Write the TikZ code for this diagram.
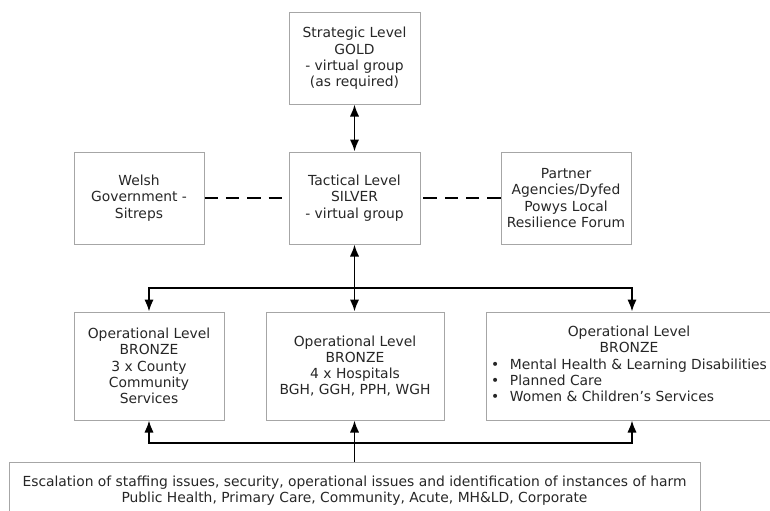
\documentclass[tikz,border=0pt]{standalone}
\usepackage{fontspec}
\setmainfont{DejaVu Sans}
\usetikzlibrary{arrows.meta}

\begin{document}
\begin{tikzpicture}[x=0.75pt,y=-0.75pt,
                    every node/.style={draw=gray!70,line width=0.75pt,align=center,inner sep=2pt,
                                       font=\fontsize{10.4}{12.2}\selectfont,text=black!85},
                    arr/.style={line width=1.3pt,>={Latex[length=9pt,width=7pt]}},
                    dashline/.style={line width=1.3pt,dash pattern=on 10pt off 6pt}]
  % command structure: GOLD over SILVER over three BRONZE groups, escalation feeding up.
  \useasboundingbox (0,0) rectangle (770,510);
  \clip (0,0) rectangle (770,510);
  \node[minimum width=98.25pt,minimum height=68.25pt] (gold) at (354.5,58.5)
    {Strategic Level\\GOLD\\- virtual group\\(as required)};
  \node[minimum width=98.25pt,minimum height=69pt] (silver) at (354.5,198)
    {Tactical Level\\SILVER\\- virtual group};
  \node[minimum width=97.5pt,minimum height=69pt] (welsh) at (139,198)
    {Welsh\\Government -\\Sitreps};
  \node[minimum width=97.5pt,minimum height=69pt] (partner) at (566,198)
    {Partner\\Agencies/Dyfed\\Powys Local\\Resilience Forum};
  \node[minimum width=112.5pt,minimum height=81pt] (ops1) at (149,366)
    {Operational Level\\BRONZE\\3 x County\\Community\\Services};
  \node[minimum width=133.5pt,minimum height=81pt] (ops2) at (355,366)
    {Operational Level\\BRONZE\\4 x Hospitals\\BGH, GGH, PPH, WGH};
  \node[minimum width=214.5pt,minimum height=81pt] (ops3) at (629,366)
    {\begin{tabular}{@{}l@{\hspace{8pt}}l@{}}
       \multicolumn{2}{@{}c@{}}{Operational Level}\\
       \multicolumn{2}{@{}c@{}}{BRONZE}\\
       • & Mental Health \& Learning Disabilities\\
       • & Planned Care\\
       • & Women \& Children’s Services
     \end{tabular}};
  \node[minimum width=518.25pt,minimum height=43.5pt] (esc) at (354.5,491)
    {Escalation of staffing issues, security, operational issues and identification of instances of harm\\
     Public Health, Primary Care, Community, Acute, MH\&LD, Corporate};
  \coordinate (tr) at (632,288);
  \coordinate (br) at (632,443);
  \draw[arr,<->] (gold) -- (silver);
  \draw[arr,<->] (silver.south) -- (silver.south |- ops2.north);
  \draw[arr,<->] (ops1.north) |- (tr) -- (tr |- ops3.north);
  \draw[arr,<->] (ops1.south) |- (br) -- (br |- ops3.south);
  \draw[arr,->] (esc.north) -- (esc.north |- ops2.south);
  \foreach \x in {welsh,partner}{\draw[dashline] (\x) -- (silver);}
\end{tikzpicture}
\end{document}
